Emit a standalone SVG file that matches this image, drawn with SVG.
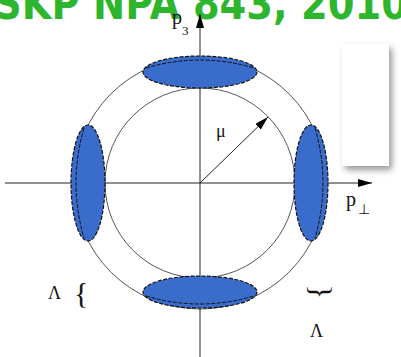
<svg xmlns="http://www.w3.org/2000/svg" width="401" height="357" viewBox="0 0 401 357">
<defs>
<marker id="ah2" viewBox="0 0 14 8" refX="14" refY="4" markerWidth="14" markerHeight="8" markerUnits="userSpaceOnUse" orient="auto"><path d="M0,0 L14,4 L0,8 Z" fill="#000"/></marker>
<filter id="sh" x="-30%" y="-30%" width="160%" height="160%"><feGaussianBlur stdDeviation="3"/></filter>
</defs>
<style>
.ring{fill:none;stroke:#555;stroke-width:1}
.axis{stroke:#222;stroke-width:1}
.disk{fill:#3a6ccc;stroke:#111;stroke-width:1.2;stroke-dasharray:4 1.5}
.rim{fill:none;stroke:#111;stroke-width:1;stroke-dasharray:4 1.5}
.lbl{font-family:"Liberation Serif",serif;fill:#111}
.title{font-family:"DejaVu Sans",sans-serif;font-weight:bold;fill:#2db52d;font-size:44px}
</style>
<rect width="401" height="357" fill="#fff"/>
<text class="title" x="-6" y="19" textLength="414" lengthAdjust="spacingAndGlyphs">SKP NPA 843, 2010</text>
<g id="rings">
<circle class="ring" cx="200" cy="183" r="126"/>
<circle class="ring" cx="200" cy="183" r="95"/>
</g>
<g id="connectors">
<line class="axis" x1="5" y1="183" x2="372" y2="183" marker-end="url(#ah2)"/>
<line class="axis" x1="200" y1="357" x2="200" y2="14" marker-end="url(#ah2)"/>
<line class="axis" x1="200" y1="183" x2="268" y2="117" stroke="#444" marker-end="url(#ah2)"/>
</g>
<g id="disk-top">
<ellipse class="disk" cx="200" cy="72" rx="57" ry="16"/>
<path class="rim" d="M146,68 Q200,52 254,68"/>
</g>
<g id="disk-bottom">
<ellipse class="disk" cx="200" cy="292" rx="57" ry="16"/>
<path class="rim" d="M146,296 Q200,312 254,296"/>
</g>
<g id="disk-left">
<ellipse class="disk" cx="88" cy="183" rx="17" ry="58"/>
<path class="rim" d="M84,128 Q68,183 84,238"/>
</g>
<g id="disk-right">
<ellipse class="disk" cx="311" cy="183" rx="17" ry="58"/>
<path class="rim" d="M315,128 Q331,183 315,238"/>
</g>
<g id="box">
<rect x="345" y="48" width="47" height="122" fill="#999" filter="url(#sh)"/>
<rect x="342" y="44" width="47" height="122" fill="#fff"/>
</g>
<g id="labels">
<text class="lbl" x="172" y="24" font-size="20">p</text>
<text class="lbl" x="182" y="35" font-size="13">3</text>
<text class="lbl" x="346" y="206" font-size="20">p</text>
<text class="lbl" x="358" y="214" font-size="14">⊥</text>
<text class="lbl" x="216" y="137" font-size="18">μ</text>
<text class="lbl" x="48" y="299" font-size="18">Λ</text>
<text class="lbl" x="74" y="303" font-size="30" font-weight="300">{</text>
<text class="lbl" x="310" y="337" font-size="18">Λ</text>
<text class="lbl" x="0" y="0" font-size="30" transform="translate(327,299) rotate(-90)">{</text>
</g>
</svg>
